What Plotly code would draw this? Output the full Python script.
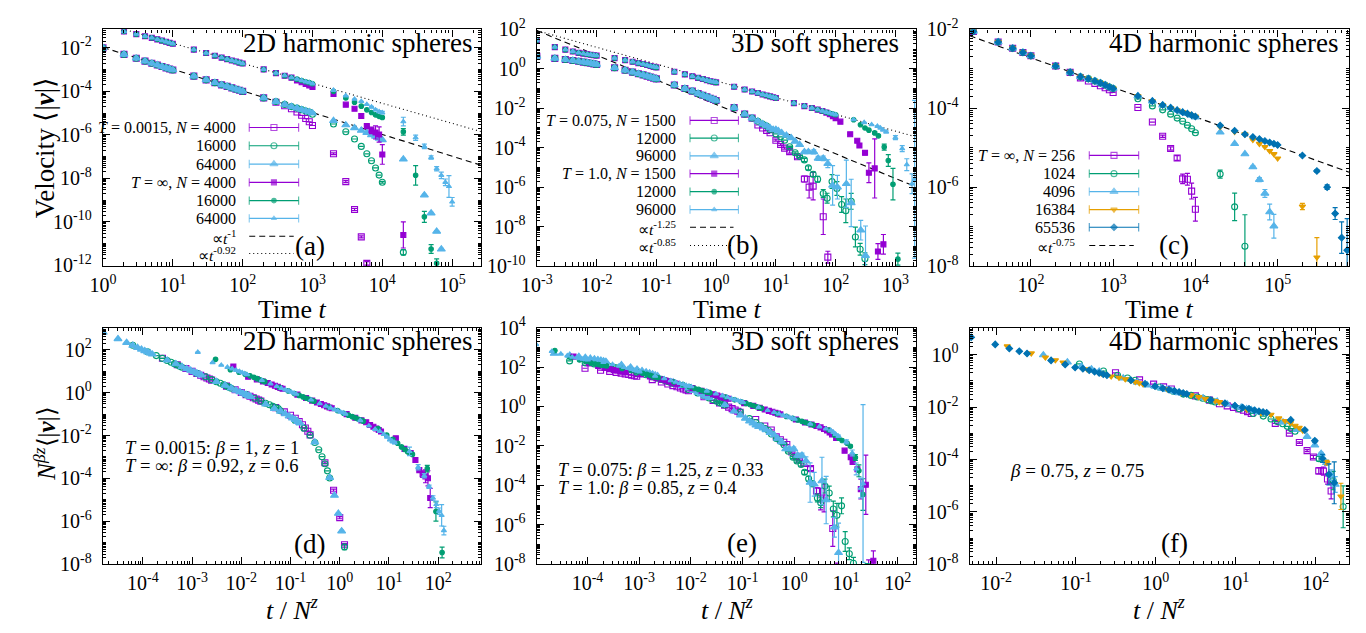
import numpy as np
import plotly.graph_objects as go

W, H = 1366, 633
FONT = "Liberation Serif, Times New Roman, serif"
PURPLE, GREEN, SKY, ORANGE, BLUE = "#9400D3", "#009E73", "#56B4E9", "#E69F00", "#0072B2"

# ====================== DATA (values are log10 <|v|>) ======================
# ---- (a) 2D harmonic spheres ----
a_t = [1, 2, 3, 4, 5, 6, 7, 8, 9, 10, 20, 30, 40, 50, 60, 70, 80, 90, 100,
       200, 300, 400, 500, 600, 700, 800, 900, 1000]
a_cold = [-2.0, -2.3, -2.48, -2.61, -2.71, -2.79, -2.86, -2.92, -2.97, -3.02, -3.3, -3.47, -3.6, -3.7,
          -3.77, -3.84, -3.9, -3.95, -4.0, -4.3, -4.47, -4.6, -4.7, -4.77, -4.84, -4.9, -4.95, -5.0]
a_hot = [-0.77, -1.25, -1.37, -1.47, -1.54, -1.61, -1.67, -1.72, -1.77, -1.81, -2.08, -2.24, -2.36, -2.45,
         -2.52, -2.58, -2.63, -2.68, -2.72, -2.99, -3.16, -3.28, -3.37, -3.44, -3.5, -3.56, -3.6, -3.65]
a_c4000_t = [300, 400, 500, 600, 700, 800, 900, 1000, 2000, 3000, 4000, 5000, 6000]
a_c4000_v = [-4.5, -4.66, -4.8, -4.95, -5.1, -5.25, -5.4, -5.57, -6.87, -8.15, -9.43, -10.69, -11.91]
a_c4000_e = [0, 0, 0, 0, 0, 0, 0, 0, 0.04, 0.05, 0.05, 0.05, 0.08]
a_c16000_t = [1000, 2000, 3000, 4000, 5000, 6000, 7000, 8000, 9000, 10000, 20000]
a_c16000_v = [-5.05, -5.5, -5.86, -6.19, -6.53, -6.87, -7.19, -7.52, -7.85, -8.18, -11.4]
a_c16000_e = [0, 0, 0, 0, 0, 0, 0, 0, 0, 0.04, 0.12]
a_c64000_t = [2000, 3000, 4000, 5000, 6000, 7000, 8000, 9000, 10000, 20000, 40000, 50000, 60000, 70000]
a_c64000_v = [-5.35, -5.55, -5.68, -5.8, -5.9, -6.0, -6.07, -6.16, -6.23, -7.12, -8.77, -9.6, -10.44, -11.26]
a_c64000_e = [0, 0, 0, 0, 0, 0, 0, 0, 0, 0.04, 0.04, 0.04, 0.04, 0.04]
a_h4000_t = [600, 700, 800, 900, 1000, 2000, 3000, 4000, 5000, 6000, 7000, 8000, 9000, 10000, 20000]
a_h4000_v = [-3.5, -3.58, -3.66, -3.73, -3.8, -4.12, -4.61, -4.8, -5.13, -5.6, -5.79, -5.89, -5.98, -6.9, -10.6]
a_h4000_e = [0, 0, 0, 0, 0, 0.03, 0.03, 0.04, 0.1, 0.05, 0.15, 0.3, 0.35, 0.45, 0.6]
a_h16000_t = [2000, 3000, 4000, 5000, 6000, 7000, 8000, 9000, 10000, 20000, 30000, 40000, 50000, 60000]
a_h16000_v = [-4.0, -4.3, -4.5, -4.68, -4.85, -4.97, -5.08, -5.15, -5.2, -5.86, -7.86, -9.77, -11.25, -11.9]
a_h16000_e = [0, 0, 0, 0, 0, 0, 0.04, 0.05, 0.05, 0.15, 0.45, 0.25, 0.2, 0.2]
a_h64000_t = [2000, 3000, 4000, 5000, 6000, 7000, 8000, 9000, 10000, 20000, 30000, 40000, 50000,
              60000, 70000, 80000, 90000, 100000]
a_h64000_v = [-3.95, -4.2, -4.36, -4.46, -4.6, -4.72, -4.85, -4.93, -4.98, -5.39, -6.13, -6.53, -7.04,
              -7.56, -7.86, -8.18, -8.37, -9.08]
a_h64000_e = [0, 0, 0, 0, 0, 0.03, 0.04, 0.05, 0.06, 0.2, 0.12, 0.1, 0.08, 0.1, 0.15, 0.15, 0.5, 0.2]

# ---- (b) 3D soft spheres ----
b_t = [0.001, 0.002, 0.003, 0.004, 0.005, 0.006, 0.007, 0.008, 0.009,
       0.01, 0.02, 0.03, 0.04, 0.05, 0.06, 0.07, 0.08, 0.09,
       0.1, 0.2, 0.3, 0.4, 0.5, 0.6, 0.7, 0.8, 0.9,
       1, 2, 3, 4, 5, 6, 7, 8, 9,
       10, 20, 30, 40, 50, 60, 70, 80, 90,
       100, 200, 300, 400, 500, 600, 700, 800, 900]
b_cold = [0.63, 0.53, 0.47, 0.42, 0.38, 0.34, 0.31, 0.28, 0.25,
          0.22, 0.05, -0.07, -0.17, -0.25, -0.31, -0.37, -0.42, -0.47,
          -0.51, -0.82, -1.0, -1.13, -1.25, -1.34, -1.42, -1.49, -1.55,
          -1.61, -1.97, -2.3, -2.5, -2.66, -2.8, -2.9, -3.0, -3.08]
b_hot = [1.45, 1.10, 0.97, 0.88, 0.81, 0.77, 0.74, 0.71, 0.69,
         0.67, 0.54, 0.44, 0.36, 0.29, 0.24, 0.19, 0.14, 0.10,
         0.07, -0.15, -0.28, -0.38, -0.46, -0.52, -0.58, -0.63, -0.66,
         -0.69, -0.91, -1.05, -1.15, -1.23, -1.3, -1.35, -1.4, -1.44,
         -1.48, -1.74, -1.89, -1.99, -2.07, -2.14, -2.2, -2.25, -2.29,
         -2.33, -2.58, -2.72, -2.83, -2.91, -2.98, -3.04, -3.09, -3.13]
b_c1500_t = [5, 6, 7, 8, 10, 12, 14, 17, 23, 30, 36, 42, 62, 74]
b_c1500_v = [-2.85, -3.0, -3.12, -3.24, -3.62, -3.84, -4.02, -4.2, -4.46, -5.59, -6.0, -5.95, -7.5, -9.55]
b_c1500_e = [0, 0, 0, 0, 0.05, 0.05, 0.05, 0.08, 0.1, 0.15, 0.55, 0.7, 0.9, 0.3]
b_c12000_t = [8, 10, 12, 14, 17, 21, 25, 30, 35, 42, 50, 62, 72, 87, 105, 126, 148, 182, 214, 257, 309]
b_c12000_v = [-3.08, -3.3, -3.45, -3.62, -3.95, -4.26, -4.45, -4.62, -5.02, -5.35, -5.6, -6.32, -6.56,
              -5.72, -6.07, -6.88, -7.2, -6.72, -8.53, -9.15, -9.63]
b_c12000_e = [0, 0, 0, 0, 0.03, 0.05, 0.05, 0.08, 0.1, 0.12, 0.15, 0.2, 0.25, 0.35, 0.35, 0.4, 0.6,
              0.4, 0.5, 0.3, 0.3]
b_c96000_t = [10, 11, 12.5, 15, 18, 21, 25, 30, 35, 43, 51, 62, 74, 89, 107, 151, 182, 263, 316]
b_c96000_v = [-3.08, -3.15, -3.25, -3.38, -3.5, -3.68, -3.85, -4.21, -4.21, -4.21, -4.54, -4.54, -4.81,
              -5.91, -6.0, -5.83, -6.8, -8.18, -9.47]
b_c96000_e = [0, 0, 0, 0, 0, 0.03, 0.05, 0.05, 0.08, 0.1, 0.1, 0.12, 0.2, 1.0, 0.6, 1.2, 1.2, 0.5, 1.5]
b_h1500_t = [70, 80, 90, 100, 120, 175, 230, 250, 310, 360, 450, 510, 630]
b_h1500_v = [-2.22, -2.3, -2.4, -2.5, -2.68, -3.32, -3.65, -3.89, -4.26, -5.27, -5.05, -9.26, -8.9]
b_h1500_e = [0, 0, 0, 0, 0, 0, 0.05, 0.05, 0.1, 0.5, 1.5, 0.4, 0.5]
b_h12000_t = [260, 310, 360, 450, 520, 650, 760, 910, 1100]
b_h12000_v = [-2.84, -3.0, -3.11, -3.25, -3.4, -3.97, -4.65, -5.85, -9.65]
b_h12000_e = [0, 0, 0, 0.05, 0.05, 0.15, 0.3, 0.8, 0.3]
b_h96000_t = [560, 620, 700, 1000, 1300, 1550, 1900, 2100]
b_h96000_v = [-3.0, -3.1, -3.2, -3.49, -4.05, -4.86, -5.83, -5.6]
b_h96000_e = [0, 0, 0.05, 0.1, 0.15, 0.3, 0.5, 4.0]

# ---- (c) 4D harmonic spheres ----
c_t = [20, 40, 60, 80, 100, 200, 300, 400, 500, 600, 700, 800, 900,
       1000, 2000, 3000, 4000, 5000, 6000, 7000, 8000, 9000,
       10000, 20000, 30000, 40000, 50000, 60000, 70000, 80000, 90000, 100000, 200000]
c_common = [-2.05, -2.32, -2.48, -2.585, -2.67, -2.93, -3.09, -3.2, -3.25, -3.31, -3.36, -3.41, -3.46,
            -3.5, -3.69, -3.82, -3.92, -3.99, -4.05, -4.1, -4.14, -4.18,
            -4.21, -4.44, -4.57, -4.66, -4.73, -4.78, -4.83, -4.87, -4.9, -4.93, -5.2]
c_256_t = [400, 500, 600, 700, 800, 900, 1000, 2000, 3000, 4000, 5000, 6000, 7000, 8000, 9000, 10000]
c_256_v = [-3.23, -3.31, -3.37, -3.43, -3.48, -3.53, -3.6, -3.98, -4.35, -4.71, -5.02, -5.26, -5.79, -5.8, -6.1, -6.56]
c_256_e = [0, 0, 0, 0, 0, 0, 0, 0, 0, 0.03, 0.04, 0.06, 0.12, 0.15, 0.2, 0.3]
c_1024_t = [2000, 3000, 4000, 5000, 6000, 7000, 8000, 9000, 10000, 20000, 30000, 40000]
c_1024_v = [-3.76, -3.94, -4.04, -4.15, -4.25, -4.33, -4.43, -4.52, -4.62, -5.67, -6.5, -7.5]
c_1024_e = [0, 0, 0, 0, 0, 0, 0, 0, 0, 0.1, 0.35, 0.8]
c_4096_t = [10000, 20000, 30000, 40000, 50000, 60000, 70000, 80000, 90000]
c_4096_v = [-4.23, -4.61, -4.9, -5.16, -5.49, -5.81, -6.16, -6.63, -6.99]
c_4096_e = [0, 0, 0, 0, 0.03, 0.05, 0.1, 0.2, 0.3]
c_16384_t = [20000, 30000, 40000, 50000, 60000, 70000, 80000, 90000, 100000, 200000, 300000]
c_16384_v = [-4.47, -4.6, -4.66, -4.8, -4.9, -4.98, -5.08, -5.16, -5.27, -6.49, -7.78]
c_16384_e = [0, 0, 0, 0, 0, 0, 0, 0, 0, 0.08, 0.5]
c_65536_t = [300000, 400000, 500000, 600000, 700000]
c_65536_v = [-5.59, -6.0, -6.67, -7.28, -7.6]
c_65536_e = [0.03, 0.06, 0.15, 0.4, 0.8]

# scaling exponents (beta, z) for the collapse panels
d_cold_bz = (1.0, 1.0)
d_hot_bz = (0.92, 0.6)
e_cold_bz = (1.25, 0.33)
e_hot_bz = (0.85, 0.4)
f_bz = (0.75, 0.75)

# power-law guides: (log10 amplitude, exponent)
a_guides = [(-1.98, -1.0), (-0.87, -0.92)]
b_guides = [(-1.81, -1.25), (-0.61, -0.85)]
c_guides = [(-1.22, -0.75)]

# tick labels (exponents)
a_xt, a_yt = [0, 1, 2, 3, 4, 5], [-12, -10, -8, -6, -4, -2]
b_xt, b_yt = [-3, -2, -1, 0, 1, 2, 3], [-10, -8, -6, -4, -2, 0, 2]
c_xt, c_yt = [2, 3, 4, 5], [-8, -6, -4, -2]
d_xt, d_yt = [-4, -3, -2, -1, 0, 1, 2], [-8, -6, -4, -2, 0, 2]
e_xt, e_yt = [-4, -3, -2, -1, 0, 1, 2], [-8, -6, -4, -2, 0, 2, 4]
f_xt, f_yt = [-2, -1, 0, 1, 2], [-8, -6, -4, -2, 0]

# ====================== helpers ======================
def px(x):
    return x / W


def py(y):
    return 1 - y / H


def build(t_c, v_c, k, t_tail, v_tail, e_tail):
    t = np.array(list(t_c[:k]) + list(t_tail), float)
    lv = np.array(list(v_c[:k]) + list(v_tail), float)
    le = np.array([0.0] * k + list(e_tail), float)
    return t, lv, le


ST = {
    'sq_o': dict(symbol='square-open', size=6),
    'ci_o': dict(symbol='circle-open', size=6),
    'tr': dict(symbol='triangle-up', size=7),
    'sq': dict(symbol='square', size=5),
    'ci': dict(symbol='circle', size=4.5),
    'tr_s': dict(symbol='triangle-up', size=4.5),
    'trd': dict(symbol='triangle-down', size=5.5),
    'dia': dict(symbol='diamond', size=5),
}

series_a = [
    (4000, 'cold', build(a_t, a_cold, 20, a_c4000_t, a_c4000_v, a_c4000_e), PURPLE, 'sq_o'),
    (16000, 'cold', build(a_t, a_cold, 27, a_c16000_t, a_c16000_v, a_c16000_e), GREEN, 'ci_o'),
    (64000, 'cold', build(a_t, a_cold, 28, a_c64000_t, a_c64000_v, a_c64000_e), SKY, 'tr'),
    (4000, 'hot', build(a_t, a_hot, 23, a_h4000_t, a_h4000_v, a_h4000_e), PURPLE, 'sq'),
    (16000, 'hot', build(a_t, a_hot, 28, a_h16000_t, a_h16000_v, a_h16000_e), GREEN, 'ci'),
    (64000, 'hot', build(a_t, a_hot, 28, a_h64000_t, a_h64000_v, a_h64000_e), SKY, 'tr_s'),
]
series_b = [
    (1500, 'cold', build(b_t, b_cold, 31, b_c1500_t, b_c1500_v, b_c1500_e), PURPLE, 'sq_o'),
    (12000, 'cold', build(b_t, b_cold, 34, b_c12000_t, b_c12000_v, b_c12000_e), GREEN, 'ci_o'),
    (96000, 'cold', build(b_t, b_cold, 36, b_c96000_t, b_c96000_v, b_c96000_e), SKY, 'tr'),
    (1500, 'hot', build(b_t, b_hot, 42, b_h1500_t, b_h1500_v, b_h1500_e), PURPLE, 'sq'),
    (12000, 'hot', build(b_t, b_hot, 47, b_h12000_t, b_h12000_v, b_h12000_e), GREEN, 'ci'),
    (96000, 'hot', build(b_t, b_hot, 50, b_h96000_t, b_h96000_v, b_h96000_e), SKY, 'tr_s'),
]
series_c = [
    (256, 'all', build(c_t, c_common, 7, c_256_t, c_256_v, c_256_e), PURPLE, 'sq_o'),
    (1024, 'all', build(c_t, c_common, 14, c_1024_t, c_1024_v, c_1024_e), GREEN, 'ci_o'),
    (4096, 'all', build(c_t, c_common, 22, c_4096_t, c_4096_v, c_4096_e), SKY, 'tr'),
    (16384, 'all', build(c_t, c_common, 23, c_16384_t, c_16384_v, c_16384_e), ORANGE, 'trd'),
    (65536, 'all', build(c_t, c_common, 33, c_65536_t, c_65536_v, c_65536_e), BLUE, 'dia'),
]

fig = go.Figure()


def add_points(ax, x, lv, le, color, style, factor=1.0):
    y = 10.0 ** lv * factor
    plus = [float(yy * (10 ** e - 1)) if e > 0 else None for yy, e in zip(y, le)]
    minus = [float(yy * (1 - 10 ** (-e))) if e > 0 else None for yy, e in zip(y, le)]
    s = ST[style]
    fig.add_trace(go.Scatter(
        x=list(map(float, x)), y=list(map(float, y)), mode='markers',
        xaxis='x' + ax, yaxis='y' + ax, showlegend=False, hoverinfo='skip',
        marker=dict(symbol=s['symbol'], size=s['size'], color=color,
                    line=dict(color=color, width=1.1)),
        error_y=dict(type='data', symmetric=False, array=plus, arrayminus=minus,
                     color=color, thickness=1.2, width=2.5)))


def add_guides(ax, guides, xr):
    dashes = ['6px,4px', '1px,3px']
    for i, (lamp, ex) in enumerate(guides):
        tt = np.array([10.0 ** xr[0], 10.0 ** xr[1]])
        yy = 10.0 ** lamp * tt ** ex
        fig.add_trace(go.Scatter(x=tt.tolist(), y=yy.tolist(), mode='lines', xaxis='x' + ax, yaxis='y' + ax,
                                 showlegend=False, hoverinfo='skip',
                                 line=dict(color='black', width=1.1, dash=dashes[i])))


PANELS = [
    ('', (88, 471), (17, 263), (0, 5.42), (-12.03, -1.15), a_xt, a_yt),
    ('2', (527, 911), (17, 263), (-3, 3.35), (-10, 2), b_xt, b_yt),
    ('3', (965, 1349), (17, 263), (1.256, 5.87), (-8, -2), c_xt, c_yt),
    ('4', (88, 471), (327, 573), (-4.81, 2.88), (-8, 3.03), d_xt, d_yt),
    ('5', (527, 911), (327, 573), (-4.98, 2.36), (-8, 4), e_xt, e_yt),
    ('6', (965, 1349), (327, 573), (-2.33, 2.42), (-8, 1.03), f_xt, f_yt),
]

# ---- top panels ----
add_guides('', a_guides, PANELS[0][3])
for N, g, (t, lv, le), col, st in series_a:
    add_points('', t, lv, le, col, st)
add_guides('2', b_guides, PANELS[1][3])
for N, g, (t, lv, le), col, st in series_b:
    add_points('2', t, lv, le, col, st)
add_guides('3', c_guides, PANELS[2][3])
for N, g, (t, lv, le), col, st in series_c:
    add_points('3', t, lv, le, col, st)

# ---- collapse panels ----
for N, g, (t, lv, le), col, st in series_a:
    beta, z = d_cold_bz if g == 'cold' else d_hot_bz
    add_points('4', t / N ** z, lv, le, col, st, factor=N ** (beta * z))
for N, g, (t, lv, le), col, st in series_b:
    beta, z = e_cold_bz if g == 'cold' else e_hot_bz
    add_points('5', t / N ** z, lv, le, col, st, factor=N ** (beta * z))
for N, g, (t, lv, le), col, st in series_c:
    beta, z = f_bz
    add_points('6', t / N ** z, lv, le, col, st, factor=N ** (beta * z))


# ---- axes ----
def minor_vals(lo, hi, decades):
    vals = []
    for k in range(int(np.floor(lo)) - 1, int(np.ceil(hi)) + 1):
        for m in range(2, 10):
            vals.append(m * 10.0 ** k)
        if decades:
            vals.append(10.0 ** k)
    return vals


layout_axes = {}
for sfx, xp, yp, xr, yr, xt, yt in PANELS:
    base = dict(type='log', tickmode='array', ticks='inside', ticklen=7, tickwidth=1, tickcolor='black',
                showline=True, linecolor='black', linewidth=1.4, mirror='allticks', showgrid=False,
                zeroline=False, tickfont=dict(family=FONT, size=20, color='black'))
    xa = dict(base, domain=[px(xp[0]), px(xp[1])], range=list(xr), anchor='y' + sfx,
              tickvals=[10.0 ** e for e in xt], ticktext=['10<sup>%d</sup>' % e for e in xt],
              ticklabelstandoff=1,
              minor=dict(tickmode='array', tickvals=minor_vals(xr[0], xr[1], False), ticks='inside',
                         ticklen=3.5, tickcolor='black', tickwidth=1))
    ya = dict(base, domain=[py(yp[1]), py(yp[0])], range=list(yr), anchor='x' + sfx,
              tickvals=[10.0 ** e for e in yt], ticktext=['10<sup>%d</sup>' % e for e in yt],
              ticklabelstandoff=6,
              minor=dict(tickmode='array', tickvals=minor_vals(yr[0], yr[1], True), ticks='inside',
                         ticklen=3, tickcolor='black', tickwidth=1))
    layout_axes['xaxis' + sfx] = xa
    layout_axes['yaxis' + sfx] = ya

# overlay pixel axes for legend samples
layout_axes['xaxis7'] = dict(domain=[0, 1], range=[0, W], visible=False, anchor='y7', fixedrange=True)
layout_axes['yaxis7'] = dict(domain=[0, 1], range=[H, 0], visible=False, anchor='x7', fixedrange=True)

annotations = []


def ann(x, y, text, size, xanchor='center', yanchor='middle', angle=0):
    annotations.append(dict(x=px(x), y=py(y), xref='paper', yref='paper', text=text, showarrow=False,
                            xanchor=xanchor, yanchor=yanchor, textangle=angle,
                            font=dict(family=FONT, size=size, color='black')))


def legend(series, labels, guide_labels, xr, x0, x1, rows):
    n = len(series)
    for i, (N, g, d, col, st) in enumerate(series):
        y = rows[i]
        ann(xr, y, labels[i], 16, xanchor='right')
        s = ST[st]
        fig.add_trace(go.Scatter(
            x=[x0, (x0 + x1) / 2, x1], y=[y, y, y], mode='lines+markers', xaxis='x7', yaxis='y7',
            showlegend=False, hoverinfo='skip', line=dict(color=col, width=1.2),
            marker=dict(symbol=['line-ns', s['symbol'], 'line-ns'], size=[6, s['size'], 6],
                        color=col, line=dict(color=col, width=1.1))))
    dashes = ['6px,4px', '1px,3px']
    for j, gl in enumerate(guide_labels):
        y = rows[n + j]
        ann(xr, y + 1, gl, 15.5, xanchor='right')
        fig.add_trace(go.Scatter(x=[x0, x1 - 5], y=[y, y], mode='lines', xaxis='x7', yaxis='y7',
                                 showlegend=False, hoverinfo='skip',
                                 line=dict(color='black', width=1.1, dash=dashes[j])))


legend(series_a,
       ['<i>T</i> = 0.0015, <i>N</i> = 4000', '16000', '64000', '<i>T</i> = ∞, <i>N</i> = 4000', '16000', '64000'],
       ['∝<i>t</i><sup>-1</sup>', '∝<i>t</i><sup>-0.92</sup>'],
       225, 236, 286, [119, 138, 157, 176, 195, 213.5, 232, 250])
legend(series_b,
       ['<i>T</i> = 0.075, <i>N</i> = 1500', '12000', '96000', '<i>T</i> = 1.0, <i>N</i> = 1500', '12000', '96000'],
       ['∝<i>t</i><sup>-1.25</sup>', '∝<i>t</i><sup>-0.85</sup>'],
       670, 682, 731, [111.7, 130, 148.5, 167, 185.7, 204.3, 222.7, 241.7])
legend(series_c,
       ['<i>T</i> = ∞, <i>N</i> = 256', '1024', '4096', '16384', '65536'],
       ['∝<i>t</i><sup>-0.75</sup>'],
       1074, 1086, 1136, [148, 167, 185.7, 204.3, 222.7, 241.7])

# titles
for x, y, t in [(463, 31, '2D harmonic spheres'), (895, 31, '3D soft spheres'), (1340, 31, '4D harmonic spheres'),
                (463, 341, '2D harmonic spheres'), (895, 341, '3D soft spheres'), (1340, 341, '4D harmonic spheres')]:
    ann(x, y, t, 27, xanchor='right')

# panel labels
for x, y, t in [(297, 242, '(a)'), (735, 241, '(b)'), (1172, 241, '(c)'),
                (297, 552, '(d)'), (735, 551, '(e)'), (1172, 551, '(f)')]:
    ann(x, y, t, 27)

# axis titles
for x in (279, 719, 1157):
    ann(x, 308, 'Time <i>t</i>', 26)
    ann(x, 619, '<i>t</i> / <i>N</i><sup><i>z</i></sup>', 26)
ann(29, 140, 'Velocity ⟨|<b><i>v</i></b>|⟩', 27, angle=-90)
ann(29, 448, '<i>N</i><sup><i>βz</i></sup>⟨|<b><i>v</i></b>|⟩', 25, angle=-90)

# collapse parameters
ann(108, 452, '<i>T</i> = 0.0015: <i>β</i> = 1, <i>z</i> = 1', 18.5, xanchor='left')
ann(108, 471, '<i>T</i> = ∞: <i>β</i> = 0.92, <i>z</i> = 0.6', 18.5, xanchor='left')
ann(546, 475, '<i>T</i> = 0.075: <i>β</i> = 1.25, <i>z</i> = 0.33', 18, xanchor='left')
ann(546, 494, '<i>T</i> = 1.0: <i>β</i> = 0.85, <i>z</i> = 0.4', 18, xanchor='left')
ann(1004, 476, '<i>β</i> = 0.75, <i>z</i> = 0.75', 19, xanchor='left')

fig.update_layout(width=W, height=H, margin=dict(l=0, r=0, t=0, b=0), paper_bgcolor='white',
                  plot_bgcolor='rgba(0,0,0,0)', showlegend=False, annotations=annotations,
                  font=dict(family=FONT, color='black'), **layout_axes)

fig.write_html("out.html", config={'displayModeBar': False},
               post_script="document.body.style.margin='0';document.body.style.overflow='hidden';")
